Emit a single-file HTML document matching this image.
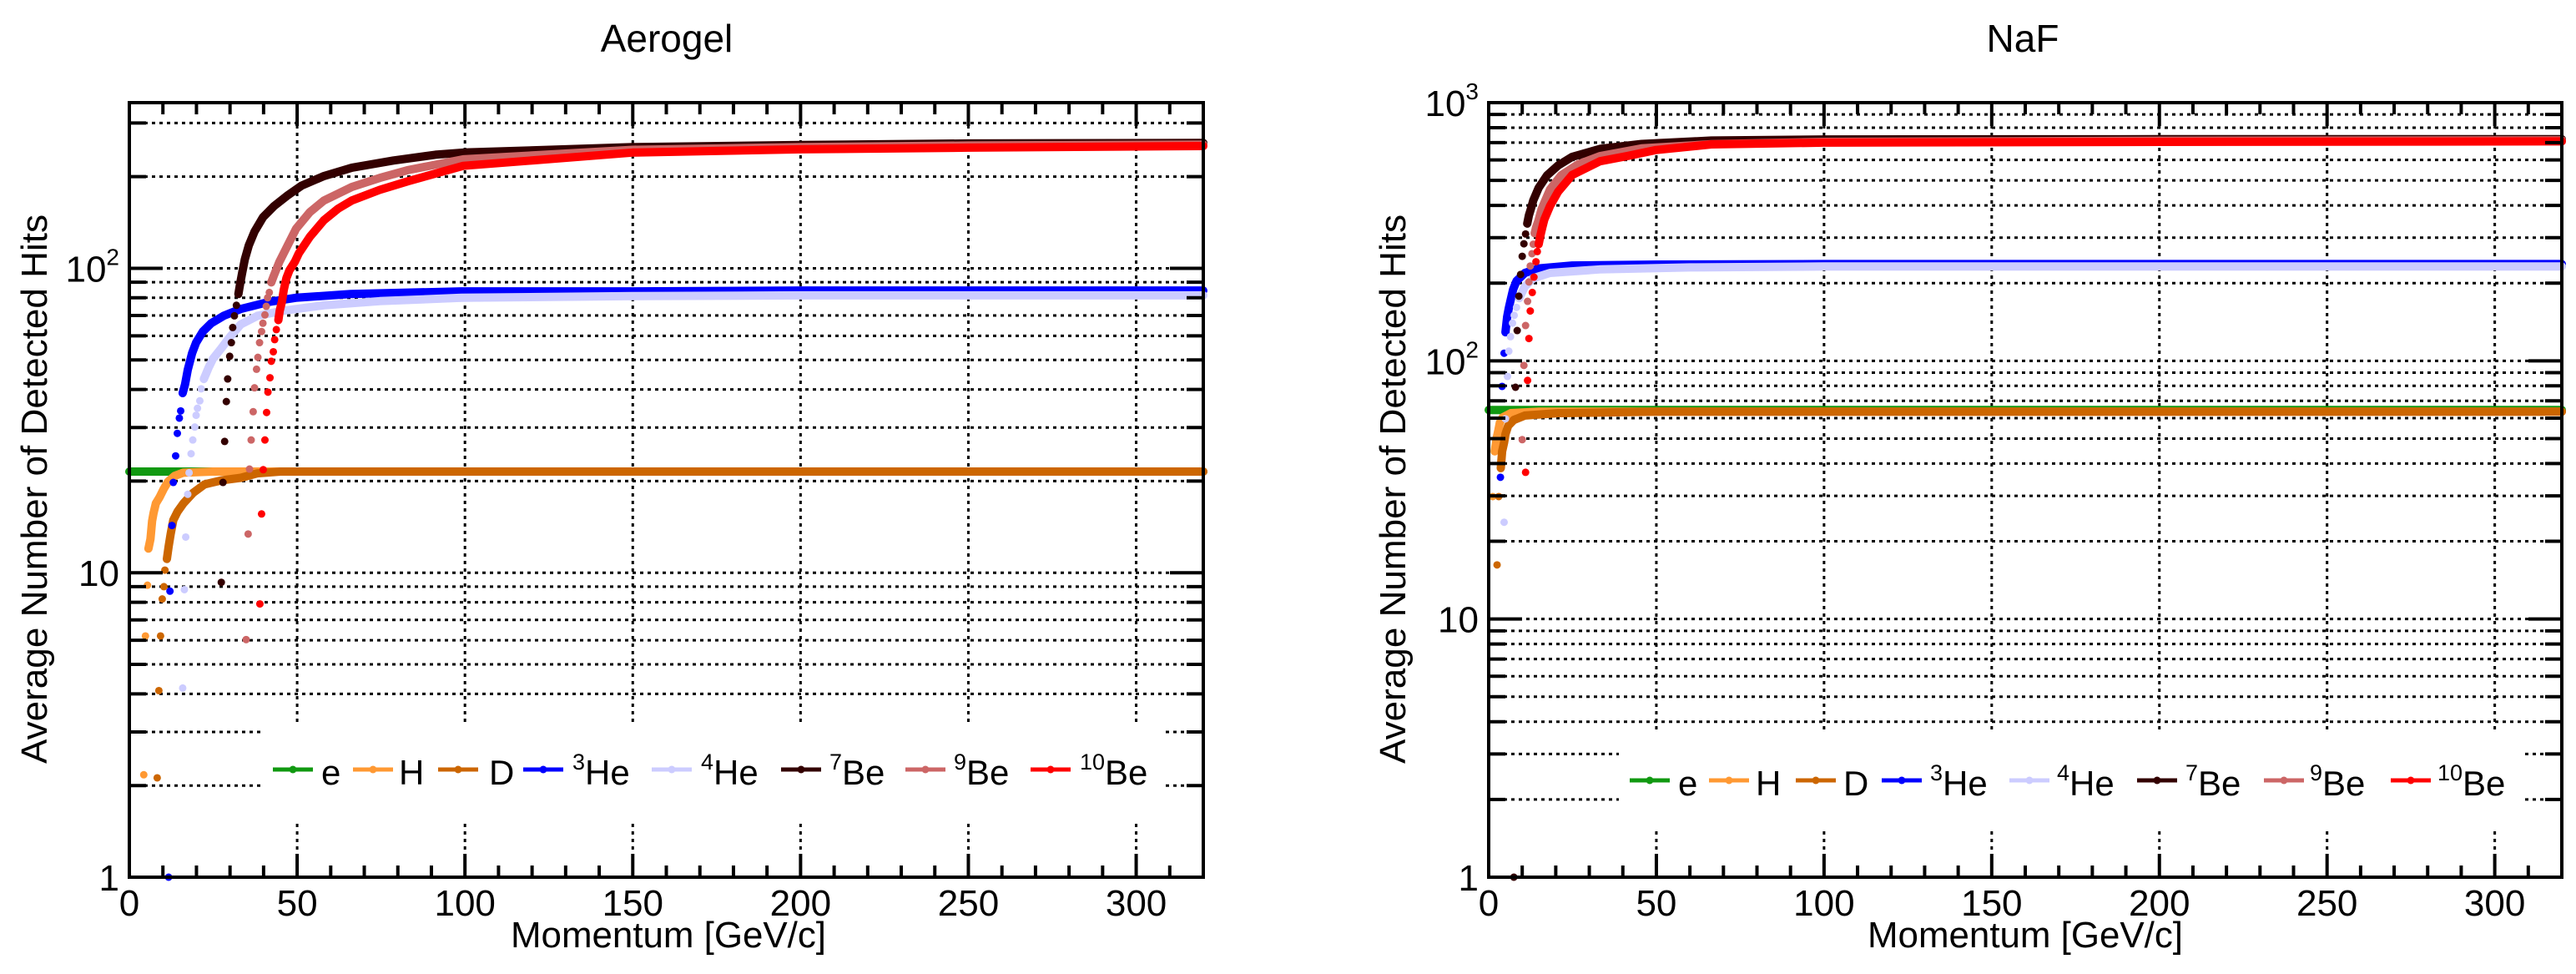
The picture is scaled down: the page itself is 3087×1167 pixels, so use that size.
<!DOCTYPE html>
<html><head><meta charset="utf-8"><style>
html,body{margin:0;padding:0;background:#fff;}
svg{display:block;font-family:"Liberation Sans",Arial,sans-serif;}
</style></head><body>
<svg id="chart" width="3087" height="1167" viewBox="0 0 3087 1167" xmlns="http://www.w3.org/2000/svg"></svg>
<script>
// ---------- Data: Aerogel ----------
const aeroE_mom = [0,20,50,100,150,200,250,320];
const aeroE_val = [21.5,21.5,21.5,21.5,21.5,21.5,21.5,21.5];
const aeroH_mom = [4.3,4.8,5.4,5.7,6.3,6.8,7.2,7.9,9,10.3,11.5,13.5,16,25,50,100,200,320];
const aeroH_val = [2.17,6.2,9.1,12,12.9,14.8,15.7,16.9,17.7,18.9,19.9,20.8,21.3,21.5,21.5,21.5,21.5,21.5];
const aeroD_mom = [8.3,8.8,9.3,9.8,10.3,10.6,11.2,11.7,12.3,13.1,14.4,16.1,19,22.4,27.4,33.2,38.1,45,100,200,320];
const aeroD_val = [2.12,4.1,6.2,8.2,9.0,10.2,11.1,12.2,13.4,14.9,15.9,16.9,18.3,19.5,20.1,20.5,21.2,21.5,21.5,21.5,21.5];
const aeroHe3_mom = [11.7,12.1,12.7,13.1,13.8,14.3,14.9,15.3,15.9,16.6,17.4,18.7,19.9,21.9,24.4,28.1,33.2,41.5,49.6,66,99,150,200,250,320];
const aeroHe3_val = [1.0,8.7,14.3,19.8,24.2,28.7,32.2,34,38.9,41.6,46.4,52.6,57,62,66,69.8,73.5,77.5,80,82.3,84,84,84.5,84.5,84.5];
const aeroHe4_mom = [15.9,16.4,16.8,17.4,17.8,18.4,18.9,19.5,19.9,20.3,21,21.4,22.2,23.6,24.9,27.4,29.9,33.2,38.2,45.6,58,74.6,99,150,200,320];
const aeroHe4_val = [4.18,8.8,13.1,18.1,21.3,24.6,27.3,30.1,32.9,34.7,36.7,40.2,43.3,47.1,50.4,54.6,59.4,65.4,69.8,72.5,75.6,78,80,81,81.5,81.5];
const aeroBe7_mom = [27.4,27.9,28.4,28.9,29.3,29.9,30.4,30.8,31.3,31.9,32.5,33,33.6,34.4,35.6,37.3,39.8,43.1,47.3,51.4,58,66.3,78.7,91.2,99.5,150,200,250,320];
const aeroBe7_val = [9.3,19.8,27,36.5,43.3,51.4,57,63.9,69.8,75.6,82.3,88.8,96.3,107,119,132,147,160,174,187,201,214,226,236,240,250,254,257,258];
const aeroBe9_mom = [34.8,35.4,35.8,36.3,36.9,37.3,37.9,38.3,38.8,39.4,39.8,40.4,40.8,41.2,41.7,42.3,43.1,44.7,47.2,49.7,53.8,58,66.3,74.6,82.9,99.5,150,200,250,320];
const aeroBe9_val = [6.03,13.4,21.9,27.3,33.8,40.5,46.6,51,57,62,66,70.3,75,80,83.3,89.9,94.8,105,119,135,153,167,185,198,210,228,245,250,253,255];
const aeroBe10_mom = [38.9,39.4,39.9,40.4,40.9,41.3,41.9,42.3,42.9,43.3,43.8,44.4,44.8,45.5,46,46.8,47.7,49.3,50.5,53.8,58,62.2,66.3,74.6,82.9,99.5,150,200,250,320];
const aeroBe10_val = [7.9,15.6,21.8,27.3,33.6,39.2,43.7,49.5,53.2,58.3,62.9,67.6,72.5,78,84.8,92.8,98.5,105,112,127,144,157,167,181,193,217,240,246,249,252];
// ---------- Data: NaF ----------
const nafE_mom = [0,10,50,100,200,320];
const nafE_val = [64.5,64.5,64.5,64.5,64.5,64.5];
const nafH_mom = [1.2,1.8,2.5,2.9,3.3,4.1,6.6,15,50,100,200,320];
const nafH_val = [29.8,44.6,51,54,57.5,60.3,62.7,63.5,63.5,63.5,63.5,63.5];
const nafD_mom = [2.5,3.0,3.6,4.0,4.6,5.0,5.8,7.5,10.8,20.7,50,100,200,320];
const nafD_val = [16.2,29.8,38.4,44.6,48.3,52,56,59,61.4,62.7,63.5,63.5,63.5,63.5];
const nafHe3_mom = [3.5,4.0,4.6,5.0,5.5,6.0,6.5,7.3,8.3,10.8,14.9,24.9,50,100,200,320];
const nafHe3_val = [35.4,79.6,107,129,148,160,171,189,204,219,228,234,236,237,237,237];
const nafHe4_mom = [4.6,5.0,5.6,6.0,6.5,7.1,7.6,8.3,9.1,10.8,13.3,18.3,33,60,100,200,320];
const nafHe4_val = [23.7,59.6,87,109,124,140,150,161,175,194,209,219,226,230,232,232,232];
const nafBe7_mom = [7.5,8.0,8.5,9.0,9.5,10,10.5,11,11.5,12,12.6,13.3,14.9,17.4,20.7,24.9,33.2,45.6,66.4,100,200,320];
const nafBe7_val = [1.0,79,131,178,216,254,284,310,340,366,388,418,468,523,571,617,662,692,713,720,722,722];
const nafBe9_mom = [10,10.5,11,11.6,12,12.4,12.9,13.3,13.7,14.1,14.8,15.8,18.3,21.6,26.6,33.2,45.6,66.4,100,200,320];
const nafBe9_val = [49.5,96,137,170,202,233,260,283,312,328,348,388,461,523,576,621,665,690,705,712,715];
const nafBe10_mom = [11,11.6,12,12.4,13,13.5,14.1,14.5,14.9,15.4,16,16.6,18.3,20.7,24.9,33.2,41.5,49.8,66.4,100,200,320];
const nafBe10_val = [37,84,122,156,184,211,242,265,283,305,329,353,398,452,525,593,622,655,689,700,705,708];
// momentum where points become a continuous band
const aeroDenseFrom = [0,5.7,11,15.9,22,32,42,44];
const nafDenseFrom = [0,1.8,3.6,5,9,11.5,13.7,14.9];
const xTickLabels = ["0","50","100","150","200","250","300"];
const xTickValues = [0,50,100,150,200,250,300];
const speciesNames = ["e","H","D","3He","4He","7Be","9Be","10Be"];

const NS="http://www.w3.org/2000/svg";
const svg=document.getElementById('chart');
function mk(tag,attrs,parent){const e=document.createElementNS(NS,tag);for(const k in attrs)e.setAttribute(k,attrs[k]);(parent||svg).appendChild(e);return e;}
const colors=["#119911","#ff9933","#cc6600","#0000ff","#ccccff","#330000","#cc6666","#ff0000"];
const keys=["e","h","d","he3","he4","be7","be9","be10"];

function drawPlot(cfg){
  const g=mk('g',{});
  
  
  const X=p=>cfg.x0+(p-0)/(320)*cfg.w;
  const Y=v=>cfg.y0+cfg.h-(Math.log10(v)-Math.log10(cfg.ymin))/(Math.log10(cfg.ymax)-Math.log10(cfg.ymin))*cfg.h;
  const L=cfg.x0,R=cfg.x0+cfg.w,T=cfg.y0,B=cfg.y0+cfg.h;
  // grid
  const grid=mk('g',{stroke:'#000','stroke-width':3,'stroke-dasharray':'4 5'},g);
  
  
  for(let d=0;d<4;d++)for(let m=1;m<10;m++){const v=m*Math.pow(10,d);if(v<=cfg.ymin||v>=cfg.ymax)continue;const y=Y(v);mk('line',{x1:L,x2:R,y1:y,y2:y},grid);}
  xTickValues.forEach(v=>{if(v>0&&v<320)mk('line',{x1:X(v),x2:X(v),y1:T,y2:B},grid);});
  // legend cover
  const lg=mk('g',{},g);
  
  
  mk('rect',{x:cfg.leg.x,y:cfg.leg.y,width:cfg.leg.w,height:cfg.leg.h,fill:'#fff'},lg);
  // series
  cfg.series.forEach((s,i)=>{
    const sg=mk('g',{},g);
    
    
    const pts=[];
    s.mom.forEach((p,j)=>{if(p>=cfg.dense[i])pts.push(X(p).toFixed(1)+','+Y(s.val[j]).toFixed(1));});
    if(pts.length>1)mk('polyline',{points:pts.join(' '),fill:'none',stroke:colors[i],'stroke-width':10,'stroke-linecap':'round','stroke-linejoin':'round'},sg);
    s.mom.forEach((p,j)=>{const c=mk('circle',{cx:X(p),cy:Y(s.val[j]),r:4.5,fill:colors[i]},sg);});
  });
  // legend entries
  cfg.leg.entries.forEach((en,i)=>{
    const eg=mk('g',{},lg);
    
    
    mk('line',{x1:en[0],x2:en[0]+48,y1:cfg.leg.cy,y2:cfg.leg.cy,stroke:colors[i],'stroke-width':5},eg);
    mk('circle',{cx:en[0]+24,cy:cfg.leg.cy,r:4.5,fill:colors[i]},eg);
    const t=mk('text',{x:en[1],y:cfg.leg.cy+18,'font-size':42,fill:'#000'},eg);
    const nm=speciesNames[i];const m=nm.match(/^(\d+)(.*)$/);
    if(m){const s1=mk('tspan',{'font-size':27,dy:-18},t);s1.textContent=m[1];const s2=mk('tspan',{dy:18},t);s2.textContent=m[2];}
    else t.textContent=nm;
  });
  // ticks
  const tk=mk('g',{stroke:'#000','stroke-width':4},g);
  
  
  for(let d=0;d<4;d++)for(let m=1;m<10;m++){const v=m*Math.pow(10,d);if(v<=cfg.ymin||v>=cfg.ymax)continue;const y=Y(v);const len=m===1?40:20;
    mk('line',{x1:L,x2:L+len,y1:y,y2:y},tk);mk('line',{x1:R,x2:R-len,y1:y,y2:y},tk);}
  for(let v=10;v<320;v+=10){const len=v%50===0?28:14;mk('line',{x1:X(v),x2:X(v),y1:B,y2:B-len},tk);mk('line',{x1:X(v),x2:X(v),y1:T,y2:T+len},tk);}
  mk('rect',{x:L,y:T,width:cfg.w,height:cfg.h,fill:'none',stroke:'#000','stroke-width':4},g);
  // tick labels
  xTickLabels.forEach((lab,i)=>{const t=mk('text',{x:X(xTickValues[i]),y:B+46,'font-size':44,'text-anchor':'middle'},g);
    t.textContent=lab;});
  cfg.yLabels.forEach(e=>{const v=e[0],y=Y(v);const t=mk('text',{x:L-12,y:y+16,'font-size':44,'text-anchor':'end'},g);
    
    if(e[1]){const a=mk('tspan',{},t);a.textContent='10';const b=mk('tspan',{'font-size':28,dy:-20},t);b.textContent=e[1];}
    else t.textContent=String(v);});
  // titles
  const tt=mk('text',{x:cfg.titleX,y:62,'font-size':46,'text-anchor':'middle'},g);
  tt.textContent=cfg.title;
  const xt=mk('text',{x:cfg.xtX,y:1135,'font-size':44,'text-anchor':'middle',textLength:378,lengthAdjust:'spacingAndGlyphs'},g);
  xt.textContent='Momentum [GeV/c]';
  const yt=mk('text',{x:0,y:0,'font-size':44,'text-anchor':'middle',textLength:658,lengthAdjust:'spacingAndGlyphs',transform:`translate(${cfg.ytX},586) rotate(-90)`},g);
  yt.textContent='Average Number of Detected Hits';
}

drawPlot({name:'aerogel',x0:155,y0:123,w:1287,h:928,ymin:1,ymax:350,title:'Aerogel',titleX:799,xtX:801,ytX:56,
  dense:aeroDenseFrom,
  series:[{mom:aeroE_mom,val:aeroE_val},{mom:aeroH_mom,val:aeroH_val},{mom:aeroD_mom,val:aeroD_val},{mom:aeroHe3_mom,val:aeroHe3_val},{mom:aeroHe4_mom,val:aeroHe4_val},{mom:aeroBe7_mom,val:aeroBe7_val},{mom:aeroBe9_mom,val:aeroBe9_val},{mom:aeroBe10_mom,val:aeroBe10_val}],
  yLabels:[[1,null],[10,null],[100,'2']],
  leg:{x:313,y:868,w:1081,h:118,cy:922,entries:[[327,385],[423,478],[525,586],[627,686],[781,840],[936,994],[1085,1143],[1235,1294]]}});
drawPlot({name:'naf',x0:1784,y0:123,w:1286,h:928,ymin:1,ymax:1000,title:'NaF',titleX:2424,xtX:2427,ytX:1684,
  dense:nafDenseFrom,
  series:[{mom:nafE_mom,val:nafE_val},{mom:nafH_mom,val:nafH_val},{mom:nafD_mom,val:nafD_val},{mom:nafHe3_mom,val:nafHe3_val},{mom:nafHe4_mom,val:nafHe4_val},{mom:nafBe7_mom,val:nafBe7_val},{mom:nafBe9_mom,val:nafBe9_val},{mom:nafBe10_mom,val:nafBe10_val}],
  yLabels:[[1,null],[10,null],[100,'2'],[1000,'3']],
  leg:{x:1940,y:875,w:1081,h:118,cy:935,entries:[[1953,2011],[2048,2104],[2152,2209],[2255,2313],[2408,2465],[2561,2619],[2713,2768],[2865,2921]]}});
</script>
</body></html>
